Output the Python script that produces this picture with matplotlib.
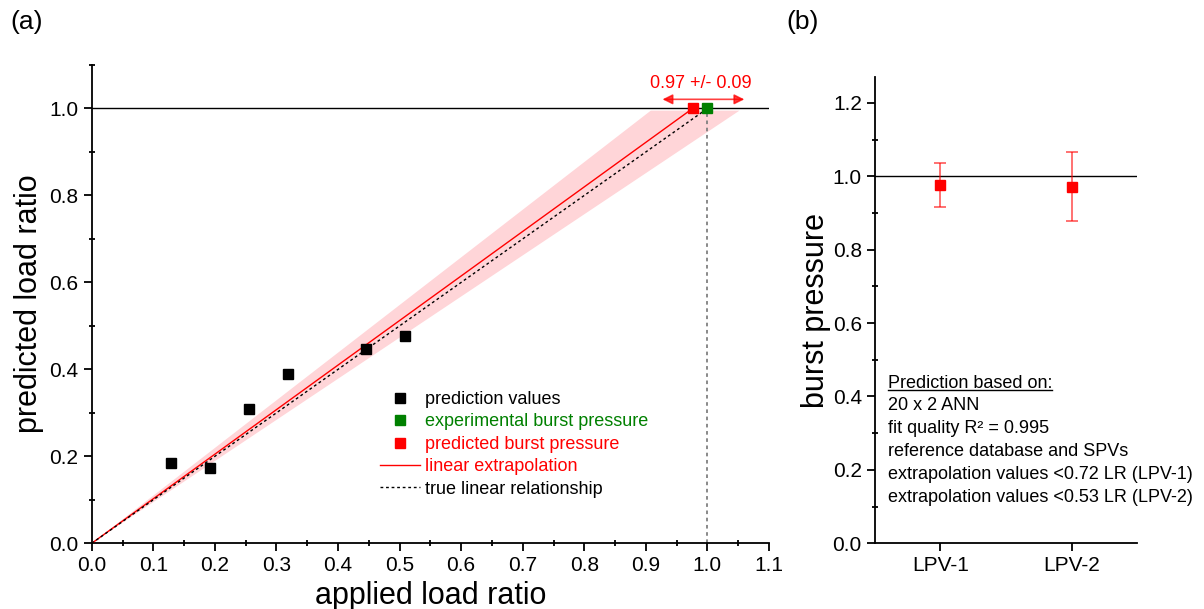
import numpy as np
import matplotlib
matplotlib.use("Agg")
import matplotlib.pyplot as plt
from matplotlib.lines import Line2D
from matplotlib.ticker import MultipleLocator

plt.rcParams["font.family"] = ["Liberation Sans", "DejaVu Sans"]

# panel (a) data
applied = [0.128, 0.192, 0.256, 0.319, 0.445, 0.509]
predicted = [0.184, 0.172, 0.309, 0.389, 0.446, 0.476]
pred_burst = (0.976, 1.0)
exp_burst = (1.0, 1.0)
band_y = 0.995
band_x = [0.908, 1.052]
arrow_x = [0.927, 1.06]
burst_text = "0.97 +/- 0.09"

# panel (b) data
lpv_names = ["LPV-1", "LPV-2"]
lpv_values = [0.977, 0.971]
lpv_err = [0.06, 0.094]
info_lines = ["20 x 2 ANN", "fit quality R\u00b2 = 0.995", "reference database and SPVs",
              "extrapolation values <0.72 LR (LPV-1)", "extrapolation values <0.53 LR (LPV-2)"]

fig = plt.figure(figsize=(12.04, 6.09), dpi=100)
ax = fig.add_axes([0.0762, 0.1079, 0.5625, 0.7854])
axb = fig.add_axes([0.7267, 0.1079, 0.2177, 0.7654])

def style_axis(a):
    for s in ["top", "right"]:
        a.spines[s].set_visible(False)
    for s in ["left", "bottom"]:
        a.spines[s].set_linewidth(1.3)
    a.tick_params(which="major", direction="out", length=6, width=1.3, labelsize=15)
    a.tick_params(which="minor", direction="inout", length=5, width=1.3)

# ---- panel (a)
style_axis(ax)
ax.set_xlim(0, 1.1)
ax.set_ylim(0, 1.1)
ax.xaxis.set_major_locator(MultipleLocator(0.1))
ax.xaxis.set_minor_locator(MultipleLocator(0.05))
ax.yaxis.set_major_locator(MultipleLocator(0.2))
ax.yaxis.set_minor_locator(MultipleLocator(0.1))
ax.xaxis.set_major_formatter(lambda v, p: f"{v:.1f}")
ax.yaxis.set_major_formatter(lambda v, p: f"{v:.1f}")

ax.fill([0, band_x[0], band_x[1]], [0, band_y, band_y], color="#ffd5d8", lw=0, zorder=1)
ax.axhline(1.0, color="black", lw=1, zorder=2)
ax.plot([exp_burst[0], exp_burst[0]], [0, exp_burst[1]], ls=(0, (2, 2)), color="gray", lw=1.3, zorder=2)
ax.plot([0, pred_burst[0]], [0, pred_burst[1]], color="red", lw=1, zorder=3)
ax.plot([0, exp_burst[0]], [0, exp_burst[1]], ls=(0, (2, 2)), color="black", lw=1, zorder=3)
ax.plot(applied, predicted, "s", color="black", ms=7, zorder=4)
ax.plot(*exp_burst, "s", color="green", ms=7, zorder=5, clip_on=False)
ax.plot(*pred_burst, "s", color="red", ms=7, zorder=5, clip_on=False)
ax.annotate("", xy=(arrow_x[0], 1.021), xytext=(arrow_x[1], 1.021),
            arrowprops=dict(arrowstyle="<|-|>", color="red", lw=1.2, alpha=0.75,
                            mutation_scale=15, shrinkA=0, shrinkB=0))
ax.text(0.99, 1.038, burst_text, color="red", fontsize=13, ha="center", va="bottom")

ax.set_xlabel("applied load ratio", fontsize=22, labelpad=4)
ax.set_ylabel("predicted load ratio", fontsize=22, labelpad=4)

handles = [
    Line2D([], [], ls="none", marker="s", color="black", ms=7),
    Line2D([], [], ls="none", marker="s", color="green", ms=7),
    Line2D([], [], ls="none", marker="s", color="red", ms=7),
    Line2D([], [], color="red", lw=1),
    Line2D([], [], color="black", lw=1, ls=(0, (2, 2))),
]
labels = ["prediction values", "experimental burst pressure", "predicted burst pressure",
          "linear extrapolation", "true linear relationship"]
leg = ax.legend(handles, labels, loc="upper left", bbox_to_anchor=(380 / 1204, 1 - 391 / 609),
                bbox_transform=fig.transFigure, frameon=False, fontsize=13,
                handlelength=2.2, handletextpad=0.3, labelspacing=0.3, borderaxespad=0,
                borderpad=0)
for t, c in zip(leg.get_texts(), ["black", "green", "red", "red", "black"]):
    t.set_color(c)

# ---- panel (b)
style_axis(axb)
xb = np.arange(1, len(lpv_names) + 1)
axb.set_xlim(0.5, 2.5)
axb.set_ylim(0, 1.27)
axb.set_xticks(xb)
axb.set_xticklabels(lpv_names)
axb.yaxis.set_major_locator(MultipleLocator(0.2))
axb.yaxis.set_minor_locator(MultipleLocator(0.1))
axb.yaxis.set_major_formatter(lambda v, p: f"{v:.1f}")
axb.axhline(1.0, color="black", lw=1, zorder=1)
axb.errorbar(xb, lpv_values, yerr=lpv_err, fmt="s", color="red", ms=7,
             ecolor=(1, 0, 0, 0.6), elinewidth=1.3, capsize=4, capthick=1.3, zorder=3)
axb.set_ylabel("burst pressure", fontsize=22, labelpad=1)

tx = 888 / 1204
ty0 = 1 - 383 / 609
dy = 22.8 / 609
head = fig.text(tx, ty0, "Prediction based on:", fontsize=13, va="center", ha="left")
for i, line in enumerate(info_lines):
    fig.text(tx, ty0 - (i + 1) * dy, line, fontsize=13, va="center", ha="left")

fig.canvas.draw()
bb = head.get_window_extent().transformed(fig.transFigure.inverted())
fig.add_artist(Line2D([bb.x0, bb.x1], [bb.y0 + 0.002, bb.y0 + 0.002], color="black", lw=1,
                      transform=fig.transFigure))

fig.text(10 / 1204, 1 - 22 / 609, "(a)", fontsize=19, va="center", ha="left")
fig.text(786 / 1204, 1 - 22 / 609, "(b)", fontsize=19, va="center", ha="left")

fig.savefig("out.png", dpi=100)
